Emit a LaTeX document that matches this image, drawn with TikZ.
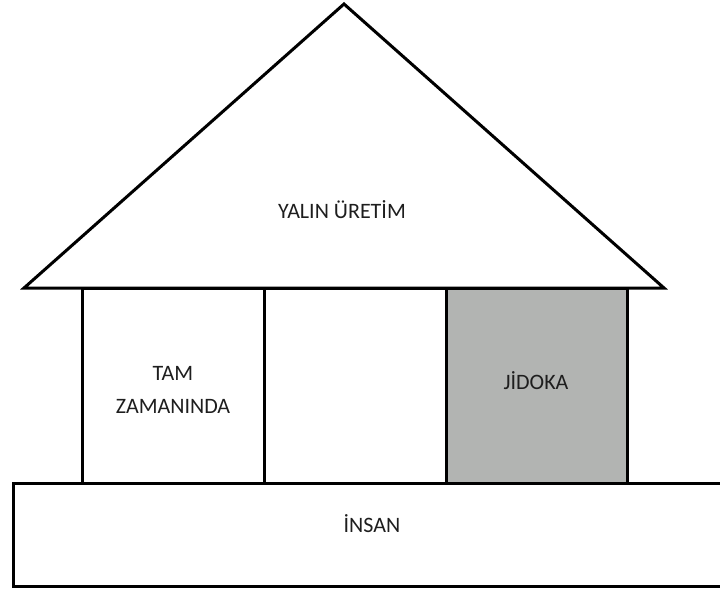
\documentclass[tikz,border=0pt]{standalone}
\usepackage{fontspec}
\setmainfont{Carlito}
\definecolor{txt}{RGB}{30,30,30}
\definecolor{jfill}{RGB}{178,180,178}
\tikzset{
  part/.style={draw=black, line width=3pt, inner sep=0pt, outer sep=0pt, anchor=north west, line join=miter},
  lbl/.style={text=txt, font=\fontsize{22}{33}\selectfont, align=center, inner sep=0pt}
}
\begin{document}
\begin{tikzpicture}[x=1pt,y=-1pt]
\useasboundingbox (0,0) rectangle (720,595);
\clip (0,0) rectangle (720,595);
% roof
\coordinate (rl) at (24,288);
\coordinate (rr) at (664,288);
\coordinate (rt) at (344,4);
\draw[line width=3pt, line join=miter] (rl) -- (rt) -- (rr) -- cycle;
\node[lbl] (roof) at (342,210) {YALIN ÜRETİM};
% pillars
\node[part, minimum width=182pt, minimum height=195pt] (p1) at (82,288) {};
\node[part, minimum width=182pt, minimum height=195pt] (p2) at (264,288) {};
\node[part, fill=jfill, minimum width=181pt, minimum height=195pt] (p3) at (446,288) {};
\node[lbl] (tam) at (173,390) {TAM\\ZAMANINDA};
\node[lbl] (jid) at (536,381) {JİDOKA};
% base
\node[part, minimum width=720pt, minimum height=103pt] (base) at (13,483) {};
\node[lbl] (ins) at (372,524) {İNSAN};
\end{tikzpicture}
\end{document}
